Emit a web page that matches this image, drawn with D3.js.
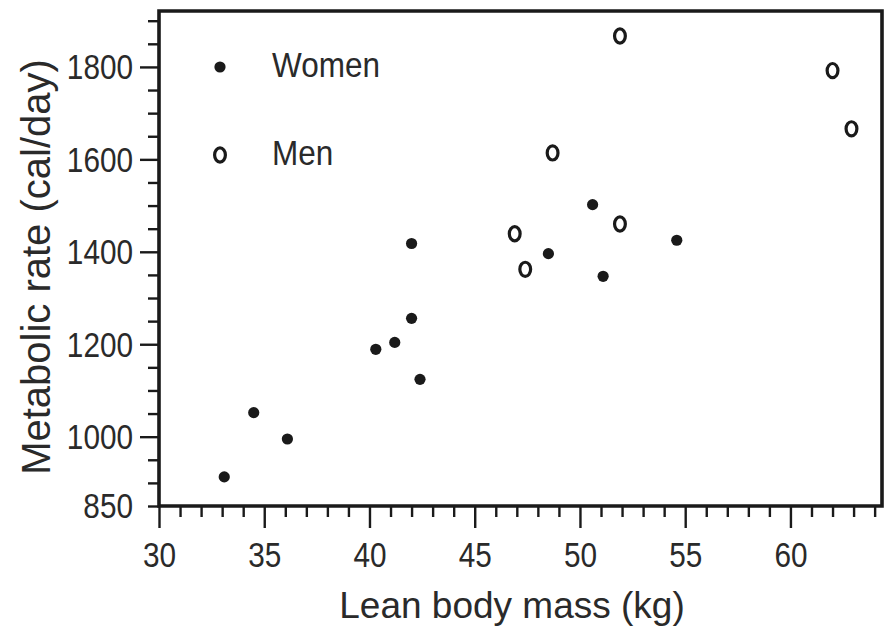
<!DOCTYPE html>
<html>
<head>
<meta charset="utf-8">
<script src="https://cdn.jsdelivr.net/npm/d3@7"></script>
<style>
  html, body { margin: 0; padding: 0; background: #fff; }
  svg { display: block; font-family: "Liberation Sans", Arial, Helvetica, sans-serif; }
</style>
</head>
<body>
<svg id="chart" width="894" height="630"></svg>
<script>
// ---- data ----
const womenMass = [36.1, 54.6, 48.5, 42.0, 50.6, 42.0, 40.3, 33.1, 42.4, 34.5, 51.1, 41.2];
const womenRate = [995, 1425, 1396, 1418, 1502, 1256, 1189, 913, 1124, 1052, 1347, 1204];
const menMass = [62.0, 62.9, 47.4, 48.7, 51.9, 51.9, 46.9];
const menRate = [1792, 1666, 1362, 1614, 1460, 1867, 1439];
const seriesNames = ["Women", "Men"];
const xTickLabels = [30, 35, 40, 45, 50, 55, 60];
const yTickLabels = [850, 1000, 1200, 1400, 1600, 1800];
const xLabel = "Lean body mass (kg)";
const yLabel = "Metabolic rate (cal/day)";

// ---- layout ----
const mLeft = 159, mRight = 882, mTop = 11, mBottom = 506;
const ink = "#1a1a1a", textInk = "#2a2a2a";

const svg = d3.select("#chart");
const x = d3.scaleLinear().domain([30, 64.35]).range([mLeft, mRight]);
const y = d3.scaleLinear().domain([850, 1921]).range([mBottom, mTop]);

// ---- y axis ----
const yTicks = d3.range(850, 1901, 50);
const yAxis = d3.axisLeft(y).tickValues(yTicks).tickSizeInner(11).tickSizeOuter(0)
  .tickFormat(d => yTickLabels.includes(d) ? String(d) : "");
const gy = svg.append("g").attr("transform", `translate(${mLeft},0)`).call(yAxis);
gy.select(".domain").remove();
gy.selectAll(".tick line").attr("stroke", ink).attr("stroke-width", 2.4)
  .attr("x2", d => (d % 200 === 0) ? -19 : -11);
gy.selectAll(".tick text")
  .attr("x", 0).attr("dy", null).attr("dominant-baseline", "central")
  .attr("transform", "translate(-26,0) scale(0.85,1)")
  .attr("fill", textInk).attr("font-size", 35)
  .style("font-family", "'Liberation Sans', Arial, sans-serif");

// ---- x axis ----
const xTicks = d3.range(30, 65, 1);
const xAxis = d3.axisBottom(x).tickValues(xTicks).tickSizeInner(11).tickSizeOuter(0)
  .tickFormat(d => xTickLabels.includes(d) ? String(d) : "");
const gx = svg.append("g").attr("transform", `translate(0,${mBottom})`).call(xAxis);
gx.select(".domain").remove();
gx.selectAll(".tick line").attr("stroke", ink).attr("stroke-width", 2.4)
  .attr("y2", d => (d % 5 === 0) ? 22 : 11);
gx.selectAll(".tick text")
  .attr("y", 0).attr("dy", null)
  .attr("transform", "translate(0,61) scale(0.85,1)")
  .attr("fill", textInk).attr("font-size", 35)
  .style("font-family", "'Liberation Sans', Arial, sans-serif");

// ---- frame ----
svg.append("path")
  .attr("d", `M${mLeft},${mTop}H${mRight}V${mBottom}H${mLeft}Z`)
  .attr("fill", "none").attr("stroke", ink).attr("stroke-width", 3.6);

// ---- axis titles ----
svg.append("text").attr("x", 512).attr("y", 618).attr("text-anchor", "middle")
  .attr("font-size", 37).attr("fill", textInk).text(xLabel);
svg.append("text").attr("transform", "translate(50,267) rotate(-90)")
  .attr("text-anchor", "middle").attr("font-size", 40).attr("fill", textInk).text(yLabel);

// ---- points ----
const women = womenMass.map((m, i) => ({ m, r: womenRate[i] }));
const men = menMass.map((m, i) => ({ m, r: menRate[i] }));

function womenMark(sel) {
  sel.append("circle").attr("r", 5.6).attr("fill", ink);
}
function menMark(sel) {
  sel.append("ellipse").attr("rx", 5.4).attr("ry", 7.1).attr("fill", "#fff")
    .attr("stroke", ink).attr("stroke-width", 3.2);
}

svg.append("g").selectAll("g").data(women).join("g")
  .attr("transform", d => `translate(${x(d.m)},${y(d.r)})`).call(womenMark);
svg.append("g").selectAll("g").data(men).join("g")
  .attr("transform", d => `translate(${x(d.m)},${y(d.r)})`).call(menMark);

// ---- legend ----
const legend = svg.append("g");
const lw = legend.append("g").attr("transform", "translate(220,67)");
womenMark(lw);
const lm = legend.append("g").attr("transform", "translate(220,155)");
menMark(lm);
legend.append("text").attr("transform", "translate(272,77) scale(0.9,1)")
  .attr("font-size", 35).attr("fill", textInk).text(seriesNames[0]);
legend.append("text").attr("transform", "translate(272,165) scale(0.9,1)")
  .attr("font-size", 35).attr("fill", textInk).text(seriesNames[1]);
</script>
</body>
</html>
